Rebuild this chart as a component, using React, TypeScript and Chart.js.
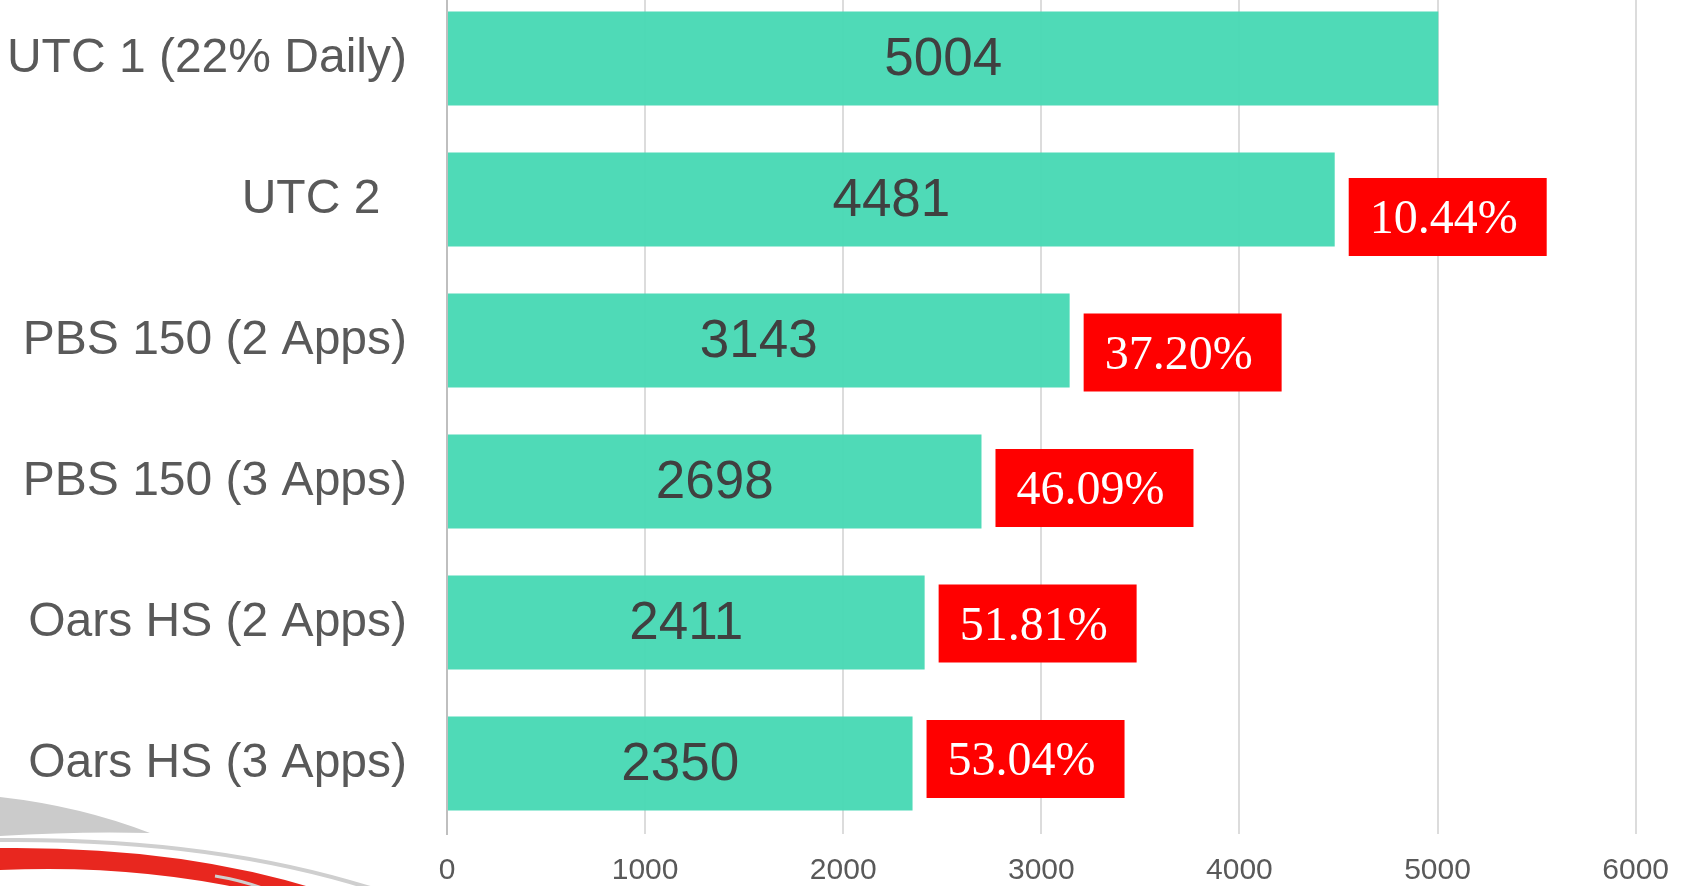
import React, { useEffect, useRef } from "react";
import { Chart, registerables } from "chart.js";

Chart.register(...registerables);

const CATEGORIES = [
  "UTC 1 (22% Daily)",
  "UTC 2  ",
  "PBS 150 (2 Apps)",
  "PBS 150 (3 Apps)",
  "Oars HS (2 Apps)",
  "Oars HS (3 Apps)",
];
const VALUES = [5004, 4481, 3143, 2698, 2411, 2350];
const REDUCTION_LABELS = ["", "10.44%", "37.20%", "46.09%", "51.81%", "53.04%"];
const X_MIN = 0;
const X_MAX = 6000;
const X_STEP = 1000;

const CANVAS_TOP = -40;
const CANVAS_W = 1688;
const CANVAS_H = 940;
const SANS = '"Liberation Sans", Arial, sans-serif';
const SERIF = '"Liberation Serif", "Times New Roman", serif';

const valueLabels = {
  id: "valueLabels",
  afterDatasetsDraw(chart: any) {
    const ctx = chart.ctx;
    const meta = chart.getDatasetMeta(0);
    ctx.save();
    meta.data.forEach((bar: any, i: number) => {
      const { x, y, base } = bar.getProps(["x", "y", "base"], true);
      const cx = (x + base) / 2;
      ctx.font = `53px ${SANS}`;
      ctx.fillStyle = "#404040";
      ctx.textAlign = "center";
      ctx.textBaseline = "middle";
      ctx.fillText(String(VALUES[i]), cx, y + 2);
      const lbl = REDUCTION_LABELS[i];
      if (lbl) {
        ctx.font = `48px ${SERIF}`;
        const tw = ctx.measureText(lbl).width;
        const bh = 78;
        const bx = x + 14;
        const bw = tw + 50;
        // the pasted boxes drift slightly upward relative to the bars
        const by = y + (23 - 5.5 * i) - bh / 2;
        ctx.fillStyle = "#ff0000";
        ctx.fillRect(bx, by, bw, bh);
        ctx.fillStyle = "#ffffff";
        ctx.textAlign = "left";
        ctx.textBaseline = "alphabetic";
        ctx.fillText(lbl, bx + 21, by + 55);
      }
    });
    ctx.restore();
  },
};

const swoosh = {
  id: "swoosh",
  afterDraw(chart: any) {
    const ctx = chart.ctx;
    const oy = -CANVAS_TOP;
    ctx.save();
    // gray wedge
    ctx.fillStyle = "#cbcbcb";
    ctx.beginPath();
    ctx.moveTo(0, 797 + oy);
    ctx.quadraticCurveTo(80, 806 + oy, 150, 833 + oy);
    ctx.quadraticCurveTo(80, 831 + oy, 0, 836 + oy);
    ctx.closePath();
    ctx.fill();
    // thin gray arc
    ctx.strokeStyle = "#cfcfcf";
    ctx.lineWidth = 4;
    ctx.beginPath();
    ctx.moveTo(0, 840 + oy);
    ctx.quadraticCurveTo(210, 838 + oy, 370, 888 + oy);
    ctx.stroke();
    // red band
    ctx.fillStyle = "#e8271f";
    ctx.beginPath();
    ctx.moveTo(0, 848 + oy);
    ctx.quadraticCurveTo(180, 846 + oy, 320, 890 + oy);
    ctx.lineTo(250, 890 + oy);
    ctx.quadraticCurveTo(130, 864 + oy, 0, 870 + oy);
    ctx.closePath();
    ctx.fill();
    // lower gray sliver
    ctx.strokeStyle = "#cfcfcf";
    ctx.lineWidth = 3;
    ctx.beginPath();
    ctx.moveTo(215, 876 + oy);
    ctx.quadraticCurveTo(240, 880 + oy, 262, 888 + oy);
    ctx.stroke();
    ctx.restore();
  },
};

export default function App() {
  const ref = useRef<HTMLCanvasElement>(null);

  useEffect(() => {
    if (!ref.current) return;
    const chart = new Chart(ref.current, {
      type: "bar",
      data: {
        labels: CATEGORIES,
        datasets: [
          {
            data: VALUES,
            backgroundColor: "rgba(72,216,180,0.96)",
            borderWidth: 0,
            barPercentage: 0.667,
            categoryPercentage: 1,
          },
        ],
      },
      options: {
        indexAxis: "y",
        responsive: false,
        animation: false,
        layout: { padding: { top: 28, right: 50, bottom: 0, left: 0 } },
        plugins: {
          legend: { display: false },
          tooltip: { enabled: false },
        },
        scales: {
          x: {
            min: X_MIN,
            max: X_MAX,
            ticks: {
              stepSize: X_STEP,
              font: { size: 30, family: SANS },
              color: "#595959",
              padding: 19,
              maxRotation: 0,
              callback: (v: any) => String(v),
            },
            grid: { color: "#dcdcdc", lineWidth: 2, drawTicks: false },
            border: { display: false },
            afterFit(s: any) {
              s.height = 66;
            },
          },
          y: {
            ticks: {
              font: { size: 48, family: SANS },
              color: "#595959",
              padding: 40,
            },
            grid: { display: false, drawTicks: false },
            border: { display: true, color: "#bfbfbf", width: 2 },
            afterFit(s: any) {
              s.width = 447;
              s.paddingTop = 0;
              s.paddingBottom = 0;
            },
          },
        },
      } as any,
      plugins: [valueLabels, swoosh],
    });
    return () => chart.destroy();
  }, []);

  return (
    <div
      style={{
        position: "fixed",
        left: 0,
        top: 0,
        width: 1681,
        height: 886,
        overflow: "hidden",
        background: "#ffffff",
      }}
    >
      <canvas
        ref={ref}
        width={CANVAS_W}
        height={CANVAS_H}
        style={{ position: "absolute", left: 0, top: CANVAS_TOP, width: CANVAS_W, height: CANVAS_H }}
      />
    </div>
  );
}
